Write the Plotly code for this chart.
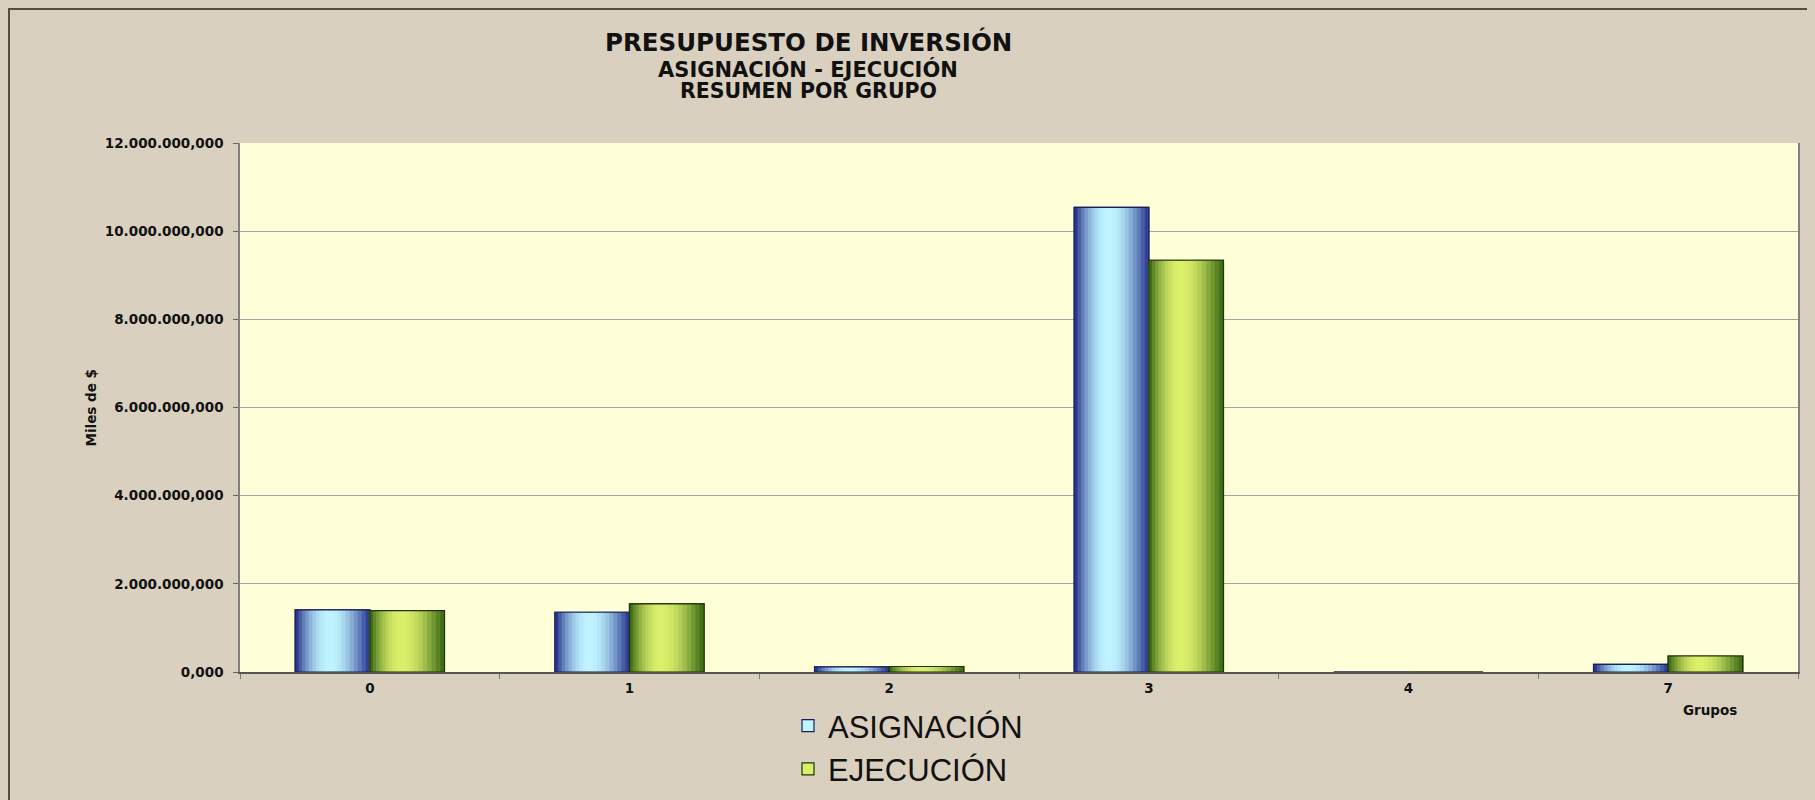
import plotly.graph_objects as go

# ---------------- data ----------------
categories = ["0", "1", "2", "3", "4", "7"]
asignacion = [1408000, 1355000, 115000, 10540000, 0, 175000]
ejecucion = [1390000, 1544000, 125000, 9340000, 0, 363000]
series_names = ["ASIGNACIÓN", "EJECUCIÓN"]
y_tick_values = [0, 2000000, 4000000, 6000000, 8000000, 10000000, 12000000]

title_lines = ["PRESUPUESTO DE INVERSIÓN", "ASIGNACIÓN - EJECUCIÓN", "RESUMEN POR GRUPO"]
y_title = "Miles de $"
x_title = "Grupos"

# ---------------- style ----------------
BG = "#DAD0BF"
BAR_W = 0.2874
N_STEPS = 10
styles = [
    dict(left="#1C2483", hi="#BFF4FF", right="#2B3A92", c=0.46, line="#1A1F5A", offset=-BAR_W),
    dict(left="#30600E", hi="#DCEF6B", right="#3A6A13", c=0.42, line="#1E3308", offset=0.0),
]


def hex_to_rgb(h):
    h = h.lstrip("#")
    return tuple(int(h[i:i + 2], 16) for i in (0, 2, 4))


def mix(a, b, t):
    ra, rb = hex_to_rgb(a), hex_to_rgb(b)
    return "rgb(%d,%d,%d)" % tuple(round(ra[i] + (rb[i] - ra[i]) * t) for i in range(3))


def profile(s):
    return 1 - (1 - s) ** 2


fig = go.Figure()
series_values = [asignacion, ejecucion]

for name, vals, st in zip(series_names, series_values, styles):
    left_edge = st["offset"]
    c = st["c"]
    fig.add_trace(go.Bar(
        x=categories, y=vals, name=name, legendgroup=name,
        offset=left_edge, width=BAR_W,
        marker=dict(color=st["hi"], line=dict(color=st["line"], width=1.2)),
        hovertemplate=name + " %{x}: %{y:,.3f}<extra></extra>",
    ))
    for i in reversed(range(N_STEPS)):
        frac = (i + 1) / N_STEPS
        s_mid = (i + 0.5) / N_STEPS
        fig.add_trace(go.Bar(
            x=categories, y=vals, showlegend=False, legendgroup=name, hoverinfo="skip",
            offset=left_edge, width=frac * c * BAR_W,
            marker=dict(color=mix(st["left"], st["hi"], profile(s_mid)), line=dict(width=0)),
        ))
    for i in reversed(range(N_STEPS)):
        frac = (i + 1) / N_STEPS
        s_mid = (i + 0.5) / N_STEPS
        w = frac * (1 - c) * BAR_W
        fig.add_trace(go.Bar(
            x=categories, y=vals, showlegend=False, legendgroup=name, hoverinfo="skip",
            offset=left_edge + BAR_W - w, width=w,
            marker=dict(color=mix(st["right"], st["hi"], profile(s_mid) ** 1.3), line=dict(width=0)),
        ))
    fig.add_trace(go.Bar(
        x=categories, y=vals, showlegend=False, legendgroup=name, hoverinfo="skip",
        offset=left_edge, width=BAR_W,
        marker=dict(color="rgba(0,0,0,0)", line=dict(color=st["line"], width=1.2)),
    ))

# page offset of the figure (default body margin of the html page)
OFF = 8
PAGE_W, PAGE_H = 1815, 800
W, H = PAGE_W - OFF, PAGE_H - OFF
# plot area in page pixels: x 240..1798, y 143..672
PL, PR, PT, PB = 240 - OFF, PAGE_W - 1798, 143 - OFF, PAGE_H - 672
pw = W - PL - PR
ph = H - PT - PB


def px_x(x):
    return (x - OFF - PL) / pw


def px_y(y):
    return (H - PB - (y - OFF)) / ph


tick_font = dict(family="DejaVu Sans", size=13.5, color="#111111", weight="bold")

fig.update_layout(
    width=W, height=H,
    margin=dict(l=PL, r=PR, t=PT, b=PB, pad=0, autoexpand=False),
    paper_bgcolor=BG,
    plot_bgcolor="#FFFFD8",
    barmode="overlay",
    separators=",.",
    showlegend=True,
    legend=dict(
        x=px_x(788), xanchor="left", y=px_y(699), yanchor="top",
        font=dict(family="Liberation Sans", size=31, color="#111111"),
        bgcolor="rgba(0,0,0,0)", traceorder="normal", tracegroupgap=0,
        itemwidth=30,
    ),
    xaxis=dict(
        type="category", categoryorder="array", categoryarray=categories,
        range=[-0.5, len(categories) - 0.5],
        tickson="boundaries", ticks="outside", ticklen=5, tickcolor="#777777",
        showgrid=False, showline=True, linecolor="#555555", linewidth=1.5,
        tickfont=tick_font, zeroline=False, ticklabelstandoff=3,
    ),
    yaxis=dict(
        range=[0, 12000000], tickvals=y_tick_values, tickformat=",.3f",
        ticks="outside", ticklen=5, tickcolor="#666666",
        showgrid=True, gridcolor="#A3A3A3", gridwidth=1,
        showline=True, linecolor="#808080", linewidth=1.5, mirror=True,
        zeroline=False, tickfont=tick_font, ticklabelstandoff=7,
    ),
    annotations=[
        dict(text=title_lines[0], x=px_x(808), y=px_y(42), xref="paper", yref="paper",
             showarrow=False, xanchor="center", yanchor="middle",
             font=dict(family="DejaVu Sans", size=24.5, color="#111111", weight="bold")),
        dict(text=title_lines[1], x=px_x(808), y=px_y(69), xref="paper", yref="paper",
             showarrow=False, xanchor="center", yanchor="middle",
             font=dict(family="DejaVu Sans", size=21, color="#111111", weight="bold")),
        dict(text=title_lines[2], x=px_x(808), y=px_y(91), xref="paper", yref="paper",
             showarrow=False, xanchor="center", yanchor="middle",
             font=dict(family="DejaVu Sans", size=20.5, color="#111111", weight="bold")),
        dict(text=y_title, x=px_x(90), y=0.5, xref="paper", yref="paper", textangle=-90,
             showarrow=False, xanchor="center", yanchor="middle",
             font=dict(family="DejaVu Sans", size=13.5, color="#111111", weight="bold")),
        dict(text=x_title, x=px_x(1710), y=px_y(710), xref="paper", yref="paper",
             showarrow=False, xanchor="center", yanchor="middle",
             font=dict(family="DejaVu Sans", size=13.5, color="#111111", weight="bold")),
    ],
    shapes=[
        dict(type="rect", xref="paper", yref="paper",
             x0=px_x(OFF + 1), x1=px_x(1840), y0=px_y(830), y1=px_y(OFF + 1),
             line=dict(color="#5A4B40", width=2), fillcolor="rgba(0,0,0,0)", layer="below"),
    ],
)

fig.write_html("out.html", post_script="document.body.style.background='" + BG + "';")
